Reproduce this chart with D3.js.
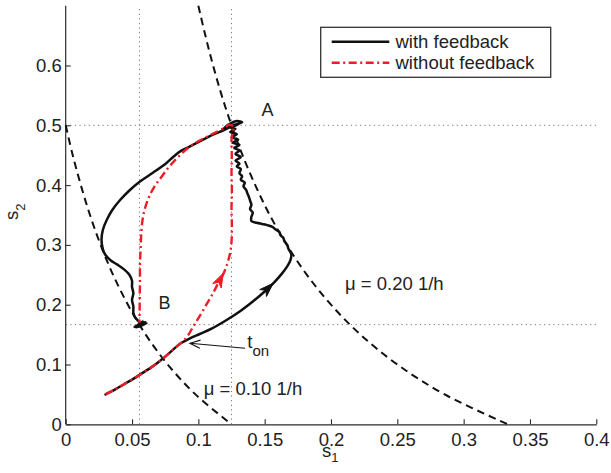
<!DOCTYPE html>
<html>
<head>
<meta charset="utf-8">
<script src="https://cdn.jsdelivr.net/npm/d3@7"></script>
<style>
  html, body { margin: 0; padding: 0; background: #fff; }
  svg { display: block; }
  text { font-family: "Liberation Sans", Arial, Helvetica, sans-serif; fill: #222; }
</style>
</head>
<body>
<svg id="chart" width="611" height="473"></svg>
<script>
// ---------------- data ----------------
const xTicks = [0, 0.05, 0.1, 0.15, 0.2, 0.25, 0.3, 0.35, 0.4];
const yTicks = [0, 0.1, 0.2, 0.3, 0.4, 0.5, 0.6];
const seriesNames = ["with feedback", "without feedback"];

// steady-state reference lines (A and B)
const verticalRefs = [0.0556, 0.125];
const horizontalRefs = [0.5, 0.1667];

// iso-growth curves  [s1, s2]
const mu020Curve = [[0.1,0.7],[0.1053,0.65],[0.1111,0.6],[0.1176,0.55],[0.125,0.5],[0.1333,0.45],[0.1429,0.4],
  [0.1538,0.35],[0.1667,0.3],[0.1818,0.25],[0.2,0.2],[0.2222,0.15],[0.25,0.1],[0.2857,0.05],[0.3333,0]];
const mu010Curve = [[0,0.5],[0.0053,0.45],[0.0114,0.4],[0.0183,0.35],[0.0263,0.3],[0.0357,0.25],[0.0469,0.2],
  [0.0603,0.15],[0.0769,0.1],[0.0978,0.05],[0.125,0]];

// common start of both trajectories (until t_on)
const sharedPath = [[0.030,0.050],[0.037,0.058],[0.044,0.067],[0.051,0.076],[0.058,0.086],[0.065,0.096],
  [0.071,0.106],[0.077,0.117],[0.082,0.127],[0.087,0.136]];

// with feedback, after t_on
const withFeedback = [[0.087,0.136],[0.093,0.143],[0.101,0.151],[0.110,0.160],[0.121,0.174],[0.132,0.190],[0.142,0.207],
  [0.150,0.222],[0.157,0.237],[0.163,0.252],[0.167,0.264],[0.1695,0.275],[0.170,0.285],[0.168,0.293],[0.167,0.300],
  [0.165,0.306],[0.164,0.312],[0.162,0.316],[0.161,0.322],[0.158,0.326],[0.156,0.330],[0.152,0.333],[0.148,0.335],
  [0.144,0.337],[0.140,0.340],[0.140,0.347],[0.141,0.354],[0.139,0.360],[0.140,0.367],[0.139,0.374],[0.138,0.381],
  [0.137,0.386],[0.136,0.392],[0.134,0.398],[0.135,0.404],[0.132,0.409],[0.133,0.415],[0.131,0.420],[0.132,0.427],
  [0.129,0.431],[0.131,0.436],[0.128,0.441],[0.132,0.447],[0.128,0.452],[0.131,0.458],[0.127,0.462],[0.131,0.467],
  [0.126,0.471],[0.130,0.476],[0.125,0.480],[0.129,0.485],[0.124,0.489],[0.128,0.494],[0.123,0.497],[0.127,0.501],
  [0.133,0.505],[0.129,0.507],[0.124,0.503],[0.120,0.496],[0.126,0.498],[0.131,0.503],[0.125,0.499],[0.118,0.494],
  [0.124,0.497],[0.116,0.489],[0.108,0.481],[0.101,0.473],[0.093,0.464],[0.086,0.456],[0.081,0.447],[0.076,0.437],
  [0.066,0.421],[0.056,0.406],[0.048,0.391],[0.041,0.375],[0.035,0.358],[0.031,0.342],[0.028,0.325],[0.027,0.308],
  [0.028,0.293],[0.030,0.283],[0.034,0.274],[0.039,0.267],[0.044,0.259],[0.048,0.250],[0.050,0.240],[0.050,0.230],
  [0.051,0.219],[0.050,0.208],[0.051,0.197],[0.051,0.187],[0.052,0.180],[0.055,0.172],[0.057,0.168],
  [0.052,0.163],[0.060,0.171],[0.054,0.166],[0.061,0.169],[0.053,0.162],[0.058,0.172],[0.056,0.165]];

// without feedback, after t_on
const withoutFeedback = [[0.087,0.136],[0.092,0.148],[0.096,0.163],[0.101,0.181],[0.106,0.200],[0.111,0.219],
  [0.115,0.236],[0.119,0.252],[0.122,0.270],[0.124,0.287],[0.125,0.305],[0.1253,0.33],[0.125,0.36],[0.1253,0.39],
  [0.125,0.42],[0.1252,0.45],[0.125,0.475],[0.126,0.49],[0.127,0.497],[0.123,0.501],[0.120,0.496],[0.112,0.487],
  [0.104,0.478],[0.096,0.468],[0.089,0.456],[0.083,0.443],[0.077,0.428],[0.072,0.413],[0.067,0.398],[0.063,0.381],
  [0.060,0.363],[0.058,0.343],[0.057,0.320],[0.0565,0.295],[0.056,0.27],[0.056,0.24],[0.0558,0.21],[0.0557,0.185],
  [0.0556,0.170]];

// direction arrows on the trajectories: [from, tip]
const blackArrow = [[0.150,0.222],[0.1564,0.2358]];
const redArrow = [[0.115,0.236],[0.1188,0.2525]];
// t_on annotation arrow: [tail, tip]
const tonArrow = [[0.1352,0.1271],[0.0937,0.1355]];

// text annotations: [label, s1, s2]
const pointLabels = [["A", 0.1476, 0.5155], ["B", 0.0699, 0.1923]];
const muLabels = [["μ = 0.20 1/h", 0.2106, 0.2245], ["μ = 0.10 1/h", 0.1040, 0.0490]];
const tonLabel = [0.1369, 0.1276];

// ---------------- drawing ----------------
const svg = d3.select("#chart");
const x = d3.scaleLinear().domain([0, 0.4]).range([65.7, 596.3]);
const y = d3.scaleLinear().domain([0, 0.7]).range([424.3, 5.7]);
const BLACK = "#111", RED = "#ee1c25", AX = "#2a2a2a";
const FS = 18.5;

// dotted reference lines
const refG = svg.append("g");
refG.selectAll("line.v").data(verticalRefs).join("line")
  .attr("x1", d => x(d)).attr("x2", d => x(d))
  .attr("y1", y(0)).attr("y2", y(0.7))
  .attr("stroke", "#777").attr("stroke-width", 1).attr("stroke-dasharray", "1.2,3.4");
refG.selectAll("line.h").data(horizontalRefs).join("line")
  .attr("x1", x(0)).attr("x2", x(0.4))
  .attr("y1", d => y(d)).attr("y2", d => y(d))
  .attr("stroke", "#777").attr("stroke-width", 1).attr("stroke-dasharray", "1.2,3.4");

// axes
const xAxis = d3.axisBottom(x).tickValues(xTicks).tickSizeInner(-5).tickSizeOuter(0).tickPadding(9)
  .tickFormat(d => d === 0 ? "0" : String(+d.toFixed(2)));
const yAxis = d3.axisLeft(y).tickValues(yTicks).tickSizeInner(-5).tickSizeOuter(0).tickPadding(4)
  .tickFormat(d => d === 0 ? "0" : String(+d.toFixed(1)));
const gx = svg.append("g").attr("transform", `translate(0,${y(0)})`).call(xAxis);
const gy = svg.append("g").attr("transform", `translate(${x(0)},0)`).call(yAxis);
[gx, gy].forEach(g => {
  g.select(".domain").attr("stroke", AX).attr("stroke-width", 1.2);
  g.selectAll(".tick line").attr("stroke", AX).attr("stroke-width", 1.1);
  g.selectAll(".tick text").attr("font-size", FS).attr("fill", "#222")
    .attr("font-family", '"Liberation Sans", Arial, sans-serif');
});
// y-domain must extend to top of plot (0.7)
gy.select(".domain").attr("d", `M0,${y(0.7)}V${y(0)}`);

// axis titles
const xt = svg.append("text").attr("x", 322).attr("y", 457).attr("font-size", FS);
xt.append("tspan").text("s");
xt.append("tspan").attr("font-size", 13).attr("dy", 5).text("1");
const yt = svg.append("text").attr("transform", "translate(17.5,220) rotate(-90)").attr("font-size", FS);
yt.append("tspan").text("s");
yt.append("tspan").attr("font-size", 13).attr("dy", 7).text("2");

// iso-growth dashed curves
const smooth = d3.line().x(d => x(d[0])).y(d => y(d[1])).curve(d3.curveCatmullRom.alpha(0.5));
[mu020Curve, mu010Curve].forEach(c => {
  svg.append("path").attr("d", smooth(c)).attr("fill", "none")
    .attr("stroke", BLACK).attr("stroke-width", 2).attr("stroke-dasharray", "7.5,5");
});

// trajectories
svg.append("path").attr("d", smooth(sharedPath.concat(withFeedback.slice(1)))).attr("fill", "none")
  .attr("stroke", BLACK).attr("stroke-width", 2.5).attr("stroke-linejoin", "round").attr("stroke-linecap", "round");
svg.append("path").attr("d", smooth(sharedPath.concat(withoutFeedback.slice(1)))).attr("fill", "none")
  .attr("stroke", RED).attr("stroke-width", 2.4).attr("stroke-dasharray", "8,3.5,2,3.5");

// filled arrowheads
function arrowHead(pair, color) {
  const [p0, p1] = pair;
  const x0 = x(p0[0]), y0 = y(p0[1]), x1 = x(p1[0]), y1 = y(p1[1]);
  const a = Math.atan2(y1 - y0, x1 - x0);
  const L = 14, W = 4.8, notch = 10;
  const pt = (d, w) => [x1 - d * Math.cos(a) - w * Math.sin(a), y1 - d * Math.sin(a) + w * Math.cos(a)];
  const pts = [[x1, y1], pt(L, W), pt(notch, 0), pt(L, -W)];
  svg.append("path").attr("d", "M" + pts.map(p => p.join(",")).join("L") + "Z")
    .attr("fill", color).attr("stroke", color).attr("stroke-width", 1).attr("stroke-linejoin", "round");
}
arrowHead(blackArrow, BLACK);
arrowHead(redArrow, RED);

// t_on annotation arrow (open head)
{
  const [t0, t1] = tonArrow;
  const x0 = x(t0[0]), y0 = y(t0[1]), x1 = x(t1[0]), y1 = y(t1[1]);
  svg.append("line").attr("x1", x0).attr("y1", y0).attr("x2", x1).attr("y2", y1)
    .attr("stroke", BLACK).attr("stroke-width", 1.1);
  const a = Math.atan2(y1 - y0, x1 - x0), L = 11, sp = 0.38;
  const head = [[x1 - L * Math.cos(a - sp), y1 - L * Math.sin(a - sp)], [x1, y1], [x1 - L * Math.cos(a + sp), y1 - L * Math.sin(a + sp)]];
  svg.append("path").attr("d", "M" + head.map(p => p.join(",")).join("L")).attr("fill", "none")
    .attr("stroke", BLACK).attr("stroke-width", 1.1);
  const tt = svg.append("text").attr("x", x(tonLabel[0])).attr("y", y(tonLabel[1])).attr("font-size", FS);
  tt.append("tspan").text("t");
  tt.append("tspan").attr("font-size", 15).attr("dy", 8.5).text("on");
}

// labels
svg.selectAll("text.pl").data(pointLabels).join("text").attr("class", "pl")
  .attr("x", d => x(d[1])).attr("y", d => y(d[2])).attr("font-size", 18).text(d => d[0]);
svg.selectAll("text.mu").data(muLabels).join("text").attr("class", "mu")
  .attr("x", d => x(d[1])).attr("y", d => y(d[2])).attr("font-size", FS).text(d => d[0]);

// legend
const lg = svg.append("g");
lg.append("rect").attr("x", 320.7).attr("y", 27.3).attr("width", 230).attr("height", 50)
  .attr("fill", "#fff").attr("stroke", "#333").attr("stroke-width", 1.3);
const legendStyles = [{ c: BLACK, dash: null }, { c: RED, dash: "8,3.5,2,3.5" }];
seriesNames.forEach((name, i) => {
  const cy = 41.7 + i * 21;
  const ln = lg.append("line").attr("x1", 331.7).attr("x2", 389.3).attr("y1", cy).attr("y2", cy)
    .attr("stroke", legendStyles[i].c).attr("stroke-width", 2.4);
  if (legendStyles[i].dash) ln.attr("stroke-dasharray", legendStyles[i].dash);
  lg.append("text").attr("x", 395.5).attr("y", cy + 6.6).attr("font-size", FS).text(name);
});
</script>
</body>
</html>
